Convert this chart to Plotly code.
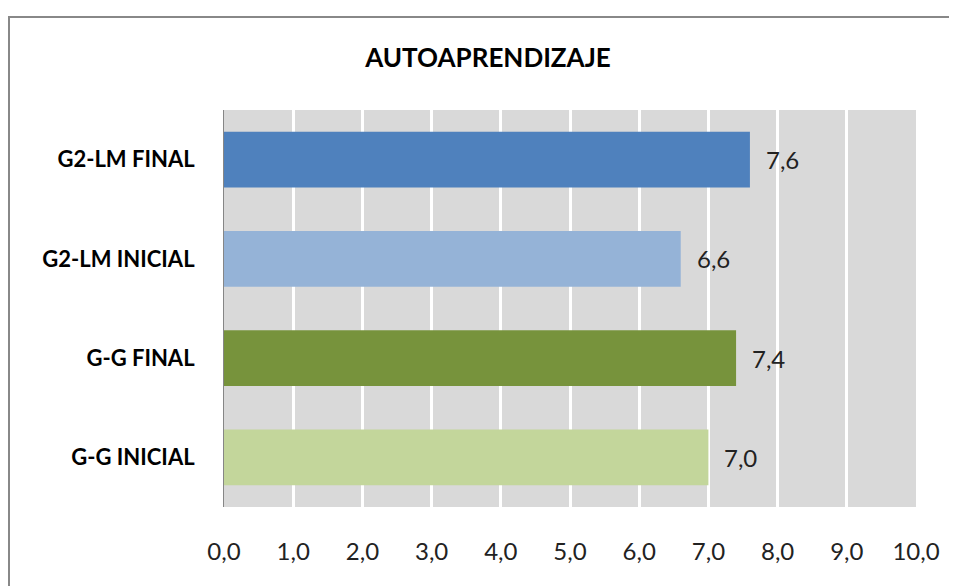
import plotly.graph_objects as go

categories = ["G-G INICIAL", "G-G FINAL", "G2-LM INICIAL", "G2-LM FINAL"]
values = [7.0, 7.4, 6.6, 7.6]
colors = ["#C3D69B", "#77933C", "#95B3D7", "#4F81BD"]
tick_vals = [0, 1, 2, 3, 4, 5, 6, 7, 8, 9, 10]
tick_text = ["0,0", "1,0", "2,0", "3,0", "4,0", "5,0", "6,0", "7,0", "8,0", "9,0", "10,0"]

# page body has an 8px margin, so the figure is laid out 8px smaller
W, H = 949, 578
L, R, T, B = 216, 41, 102, 79
pw, ph = W - L - R, H - T - B
FONT = "Lato, Open Sans, sans-serif"

fig = go.Figure(go.Bar(
    x=values, y=categories, orientation="h",
    marker=dict(color=colors, line=dict(width=0)),
    hoverinfo="x+y",
))

# value labels sit a little away from the bar ends
for v, c in zip(values, categories):
    fig.add_annotation(x=v, y=c, text=f"{v:.1f}".replace(".", ","), showarrow=False,
                       xanchor="left", yanchor="middle", xshift=14,
                       font=dict(family=FONT, size=24, color="#222222"))

fig.update_layout(
    width=W, height=H,
    margin=dict(l=L, r=R, t=T, b=B),
    paper_bgcolor="white", plot_bgcolor="#D9D9D9",
    bargap=0.436, showlegend=False,
    title=dict(text="<b>AUTOAPRENDIZAJE</b>", x=480 / W, xanchor="center",
               y=1 - 50 / H, yanchor="middle",
               font=dict(family=FONT, size=26, color="black")),
    xaxis=dict(range=[0, 10], tickvals=tick_vals, ticktext=tick_text,
               showgrid=True, gridcolor="white", gridwidth=3, zeroline=False,
               showline=False, ticks="", ticklabelstandoff=28,
               tickfont=dict(family=FONT, size=24, color="#222222")),
    yaxis=dict(showgrid=False, zeroline=False, showline=True, linecolor="#868686",
               linewidth=1, ticks="", ticklabelstandoff=24,
               tickfont=dict(family=FONT, size=22, color="black", weight="bold")),
    shapes=[dict(type="rect", xref="paper", yref="paper",
                 x0=(1 - L) / pw, x1=(W + 30 - L) / pw,
                 y0=-(H + 30 - T - ph) / ph, y1=1 + (T - 9) / ph,
                 line=dict(color="#888888", width=2), layer="below")],
)

fig.write_html("out.html")
